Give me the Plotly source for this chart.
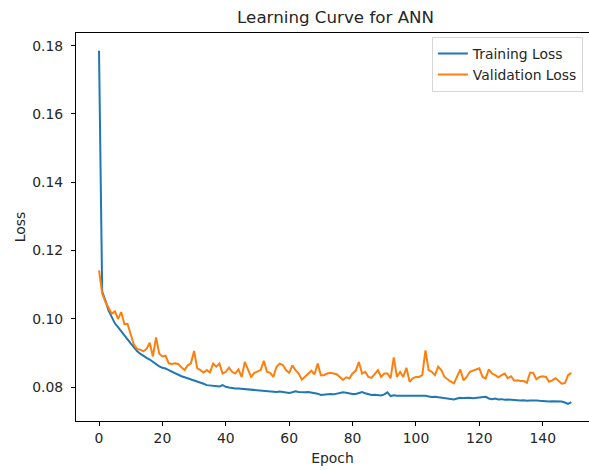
import plotly.graph_objects as go

epochs = list(range(150))

training_loss = [
    0.1785, 0.1080, 0.1054, 0.1025, 0.1006, 0.0987, 0.0976, 0.0965, 0.0952, 0.0940,
    0.0928, 0.0916, 0.0906, 0.0898, 0.0891, 0.0886, 0.0881, 0.0874, 0.0867, 0.0861,
    0.0857, 0.0855, 0.0850, 0.0845, 0.0840, 0.0835, 0.0832, 0.0829, 0.0826, 0.0823,
    0.0820, 0.0818, 0.0814, 0.0810, 0.0806, 0.0805, 0.0804, 0.0803, 0.0802, 0.0806,
    0.0801, 0.0799, 0.0797, 0.0796, 0.0796, 0.0795, 0.0794, 0.0793, 0.0792, 0.0791,
    0.0792, 0.0790, 0.0789, 0.0788, 0.0787, 0.0786, 0.0786, 0.0787, 0.0786, 0.0784,
    0.0783, 0.0785, 0.0788, 0.0786, 0.0785, 0.0785, 0.0786, 0.0785, 0.0784, 0.0781,
    0.0777, 0.0778, 0.0780, 0.0780, 0.0779, 0.0781, 0.0783, 0.0785, 0.0784, 0.0781,
    0.0780, 0.0780, 0.0784, 0.0786, 0.0782, 0.0779, 0.0777, 0.0778, 0.0777, 0.0776,
    0.0779, 0.0785, 0.0774, 0.0776, 0.0775, 0.0775, 0.0776, 0.0775, 0.0775, 0.0774,
    0.0775, 0.0774, 0.0776, 0.0775, 0.0773, 0.0771, 0.0772, 0.0771, 0.0769, 0.0768,
    0.0768, 0.0766, 0.0764, 0.0767, 0.0769, 0.0768, 0.0769, 0.0769, 0.0768, 0.0769,
    0.0770, 0.0771, 0.0772, 0.0767, 0.0765, 0.0767, 0.0764, 0.0765, 0.0763, 0.0764,
    0.0763, 0.0762, 0.0763, 0.0761, 0.0762, 0.0760, 0.0761, 0.0762, 0.0761, 0.0760,
    0.0759, 0.0758, 0.0758, 0.0759, 0.0759, 0.0758, 0.0758, 0.0755, 0.0751, 0.0756,
]

validation_loss = [
    0.1142, 0.1075, 0.1050, 0.1030, 0.1015, 0.1022, 0.1000, 0.1020, 0.0985, 0.0985,
    0.0955, 0.0925, 0.0912, 0.0910, 0.0905, 0.0912, 0.0930, 0.0890, 0.0946, 0.0898,
    0.0890, 0.0892, 0.0870, 0.0868, 0.0870, 0.0868, 0.0858, 0.0850, 0.0864, 0.0870,
    0.0906, 0.0855, 0.0850, 0.0843, 0.0850, 0.0843, 0.0869, 0.0860, 0.0869, 0.0840,
    0.0845, 0.0857, 0.0845, 0.0840, 0.0852, 0.0830, 0.0874, 0.0852, 0.0830, 0.0842,
    0.0845, 0.0850, 0.0877, 0.0845, 0.0842, 0.0830, 0.0860, 0.0869, 0.0865, 0.0850,
    0.0842, 0.0864, 0.0850, 0.0840, 0.0822, 0.0830, 0.0840, 0.0848, 0.0838, 0.0869,
    0.0835, 0.0835, 0.0840, 0.0842, 0.0840, 0.0838, 0.0830, 0.0821, 0.0829, 0.0826,
    0.0840, 0.0848, 0.0874, 0.0840, 0.0845, 0.0830, 0.0827, 0.0840, 0.0850, 0.0830,
    0.0840, 0.0840, 0.0826, 0.0887, 0.0830, 0.0845, 0.0830, 0.0857, 0.0816, 0.0826,
    0.0830, 0.0830, 0.0835, 0.0908, 0.0850, 0.0845, 0.0835, 0.0860, 0.0850, 0.0830,
    0.0822, 0.0816, 0.0811, 0.0830, 0.0852, 0.0820, 0.0830, 0.0845, 0.0848, 0.0850,
    0.0855, 0.0830, 0.0826, 0.0852, 0.0840, 0.0835, 0.0829, 0.0835, 0.0840, 0.0826,
    0.0832, 0.0819, 0.0820, 0.0818, 0.0818, 0.0813, 0.0842, 0.0842, 0.0823, 0.0830,
    0.0832, 0.0830, 0.0816, 0.0820, 0.0826, 0.0819, 0.0810, 0.0812, 0.0835, 0.0842,
]

x_ticks = [0, 20, 40, 60, 80, 100, 120, 140]
y_ticks = [0.08, 0.10, 0.12, 0.14, 0.16, 0.18]

FONT = "DejaVu Sans"
TXT = "#262626"

fig = go.Figure()
fig.add_trace(go.Scatter(x=epochs, y=training_loss, mode="lines", name="Training Loss",
                         line=dict(color="#1f77b4", width=2)))
fig.add_trace(go.Scatter(x=epochs, y=validation_loss, mode="lines", name="Validation Loss",
                         line=dict(color="#ff7f0e", width=2)))

fig.update_layout(
    width=589, height=470,
    margin=dict(l=76, r=0, t=33, b=49, autoexpand=False),
    paper_bgcolor="white", plot_bgcolor="white",
    font=dict(family=FONT, size=13.9, color=TXT),
    showlegend=True,
    legend=dict(x=0.988, y=0.990, xanchor="right", yanchor="top",
                bgcolor="rgba(255,255,255,0.8)", bordercolor="#d6d6d6", borderwidth=1,
                font=dict(family=FONT, size=13.9, color=TXT), tracegroupgap=0),
    title=dict(text="Learning Curve for ANN", x=0.506, xref="paper", xanchor="center",
               y=1 - 17 / 470, yref="container", yanchor="middle",
               font=dict(family=FONT, size=16.7, color=TXT)),
    xaxis=dict(range=[-7.26, 154.6], tickvals=x_ticks, ticks="outside", ticklen=4,
               tickcolor="black", tickwidth=1, showgrid=False, zeroline=False,
               showline=True, linecolor="black", linewidth=1, mirror=True, automargin=False,
               title=dict(text="Epoch", standoff=8, font=dict(size=13.9))),
    yaxis=dict(range=[0.0701, 0.1837], tickvals=y_ticks, tickformat=".2f", ticks="outside",
               ticklen=4, tickcolor="black", tickwidth=1, showgrid=False, zeroline=False,
               showline=True, linecolor="black", linewidth=1, mirror=False, automargin=False,
               ticklabelstandoff=5,
               title=dict(text="Loss", standoff=3, font=dict(size=13.9))),
)

fig.write_html("out.html", config={"displayModeBar": False},
               post_script="document.body.style.margin='0';")
